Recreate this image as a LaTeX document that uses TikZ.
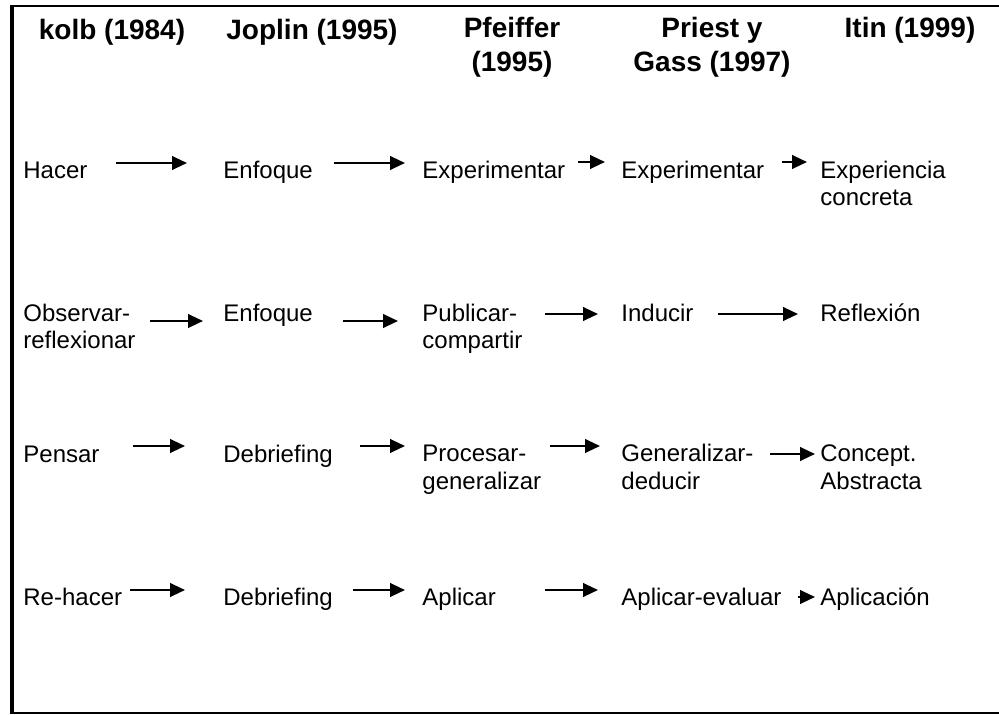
\documentclass[tikz,border=0pt]{standalone}
\usepackage{fontspec}
\setmainfont{Liberation Sans}[Ligatures={NoCommon}]
\usetikzlibrary{arrows.meta}
\begin{document}
\begin{tikzpicture}[x=0.5pt,y=-0.5pt,
  % multi-line nodes are placed by the baseline of their last line
  cell/.style={anchor=base west, inner sep=0pt, align=left,
    font=\fontsize{12}{13.6}\selectfont},
  head/.style={anchor=base, inner sep=0pt, align=center,
    font=\fontsize{14}{17}\selectfont\bfseries},
  arr/.style={line width=1.15pt, -{Triangle[length=7.5pt,width=6.8pt]}},
  rule/.style={line width=1pt}]
\useasboundingbox (0,0) rectangle (999,715);

% table rules
\draw[rule] (12,6) -- (999,6);
\draw[rule] (12,713) -- (999,713);
\draw[line width=2pt] (12,5) -- (12,714);

% column headings
\node[head] (h1) at (112,40) {kolb (1984)};
\node[head] (h2) at (312,40) {Joplin (1995)};
\node[head] (h3) at (512,72) {Pfeiffer\\(1995)};
\node[head] (h4) at (712,72) {Priest y\\Gass (1997)};
\node[head] (h5) at (910,38) {Itin (1999)};

% row 1
\node[cell] (a1) at (23,179)  {Hacer};
\node[cell] (a2) at (223,179) {Enfoque};
\node[cell] (a3) at (422,179) {Experimentar};
\node[cell] (a4) at (621,179) {Experimentar};
\node[cell] (a5) at (820,206) {Experiencia\\concreta};
% row 2
\node[cell] (b1) at (23,349)  {Observar-\\reflexionar};
\node[cell] (b2) at (223,322) {Enfoque};
\node[cell] (b3) at (422,349) {Publicar-\\compartir};
\node[cell] (b4) at (621,322) {Inducir};
\node[cell] (b5) at (820,322) {Reflexión};
% row 3
\node[cell] (c1) at (23,462)  {Pensar};
\node[cell] (c2) at (223,462) {Debriefing};
\node[cell] (c3) at (422,489) {Procesar-\\generalizar};
\node[cell] (c4) at (621,489) {Generalizar-\\deducir};
\node[cell] (c5) at (820,489) {Concept.\\Abstracta};
% row 4
\node[cell] (d1) at (23,605)  {Re-hacer};
\node[cell] (d2) at (223,605) {Debriefing};
\node[cell] (d3) at (422,605) {Aplicar};
\node[cell] (d4) at (621,605) {Aplicar-evaluar};
\node[cell] (d5) at (820,605) {Aplicación};

% arrow end points
\coordinate (a12s) at (116,163); \coordinate (a12e) at (187,163);
\coordinate (a23s) at (334,163); \coordinate (a23e) at (405,163);
\coordinate (a34s) at (578,162); \coordinate (a34e) at (605,162);
\coordinate (a45s) at (782,162); \coordinate (a45e) at (807,162);

\coordinate (b12s) at (150,321); \coordinate (b12e) at (203,321);
\coordinate (b23s) at (343,321); \coordinate (b23e) at (398,321);
\coordinate (b34s) at (545,314); \coordinate (b34e) at (598,314);
\coordinate (b45s) at (718,314); \coordinate (b45e) at (798,314);

\coordinate (c12s) at (133,446); \coordinate (c12e) at (185,446);
\coordinate (c23s) at (360,446); \coordinate (c23e) at (405,446);
\coordinate (c34s) at (550,446); \coordinate (c34e) at (600,446);
\coordinate (c45s) at (770,454); \coordinate (c45e) at (815,454);

\coordinate (d12s) at (130,590); \coordinate (d12e) at (185,590);
\coordinate (d23s) at (353,590); \coordinate (d23e) at (405,590);
\coordinate (d34s) at (545,590); \coordinate (d34e) at (598,590);
\coordinate (d45s) at (798,597); \coordinate (d45e) at (815,597);

% arrows
\foreach \r in {a,b,c,d}{
  \draw[arr] (\r12s) -- (\r12e);
  \draw[arr] (\r23s) -- (\r23e);
  \draw[arr] (\r34s) -- (\r34e);
  \draw[arr] (\r45s) -- (\r45e);
}
\end{tikzpicture}
\end{document}
